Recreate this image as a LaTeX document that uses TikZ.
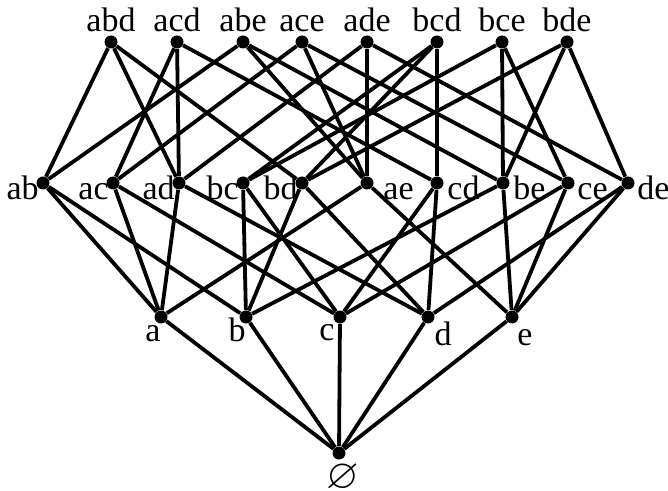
\documentclass[tikz,border=0pt]{standalone}
\usepackage{amssymb}
\usepackage{fontspec}
\setmainfont{Liberation Serif}
\usetikzlibrary{positioning}

\begin{document}
\begin{tikzpicture}[
x=0.5pt, y=-0.5pt,
vertex/.style={circle, fill=black, inner sep=0pt, minimum size=6.5pt},
lab/.style={inner sep=0pt, font=\fontsize{17}{19}\selectfont},
edge/.style={line width=1.9pt}
]
\useasboundingbox (0,0) rectangle (668,491);

% Vertices
\foreach \n/\x in {abd/111, acd/177, abe/243, ace/302, ade/367, bcd/437, bce/502, bde/567}
  \node[vertex] (\n) at (\x,42) {};
\foreach \n/\x in {ab/43, ac/113, ad/179, bc/243, bd/302, ae/367, cd/437, be/503, ce/568, de/628}
  \node[vertex] (\n) at (\x,183) {};
\foreach \n/\x in {a/161, b/246, c/340, d/428, e/512}
  \node[vertex] (\n) at (\x,317) {};
\node[vertex] (empty) at (339,453) {};

% Edges
\foreach \u/\v in {abd/ab, abd/ad, abd/bd, acd/ac, acd/ad, acd/cd,
                   abe/ab, abe/ae, abe/be, ace/ac, ace/ae, ace/ce,
                   ade/ad, ade/ae, ade/de, bcd/bc, bcd/bd, bcd/cd,
                   bce/bc, bce/be, bce/ce, bde/bd, bde/be, bde/de}
  \draw[edge] (\u) -- (\v);
\foreach \u/\v in {ab/a, ab/b, ac/a, ac/c, ad/a, ad/d, bc/b, bc/c, bd/b, bd/d,
                   ae/a, ae/e, cd/c, cd/d, be/b, be/e, ce/c, ce/e, de/d, de/e}
  \draw[edge] (\u) -- (\v);
\foreach \u in {a, b, c, d, e}
  \draw[edge] (\u) -- (empty);

% Labels
\foreach \n in {abd, acd, abe, ace, ade, bcd, bce, bde}
  \node[lab, anchor=base] (l\n) at ([yshift=2pt]\n.north) {\n};
\foreach \n in {ab, ac, ad, bc, bd}
  \node[lab, anchor=base east] (l\n) at ([xshift=-2pt, yshift=-8.5pt]\n.center) {\n};
\foreach \n/\dx in {ae/8, cd/5, be/5, ce/4.5, de/4.5}
  \node[lab, anchor=base west] (l\n) at ([xshift=\dx pt, yshift=-8.5pt]\n.center) {\n};
\foreach \n/\dx/\dy in {a/-4/-12.5, b/-4.5/-12.5, c/-6.5/-11.5, d/7.5/-14, e/6.5/-14}
  \node[lab, anchor=base] (l\n) at ([xshift=\dx pt, yshift=\dy pt]\n.center) {\n};
\node[lab, font=\fontsize{21}{23}\selectfont] (lempty) at ([xshift=2pt, yshift=-12.5pt]empty.center) {$\varnothing$};

\end{tikzpicture}
\end{document}
